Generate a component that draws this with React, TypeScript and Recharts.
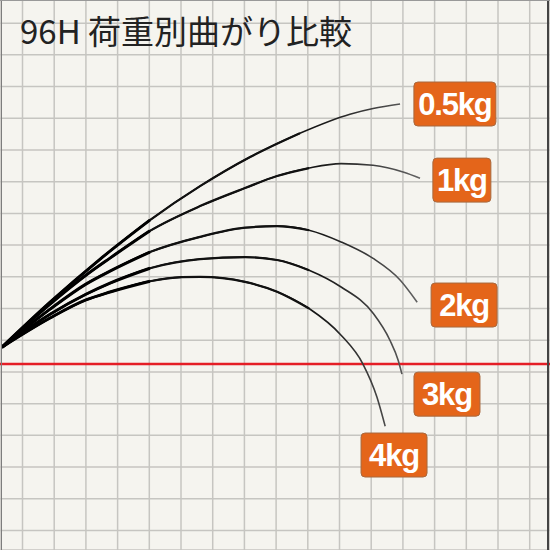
import React from "react";
import {
  ComposedChart,
  Line,
  Scatter,
  XAxis,
  YAxis,
  CartesianGrid,
  ReferenceLine,
} from "recharts";

// units: one grid cell. x counts cells to the right, y counts cells up from the bottom grid line
const gridTicks = [0, 1, 2, 3, 4, 5, 6, 7, 8, 9, 10, 11, 12, 13, 14, 15, 16];

const load05kg = [
  { x: -0.65, y: 5.78 },
  { x: 0.87, y: 7.2 },
  { x: 2.45, y: 8.56 },
  { x: 4.02, y: 9.79 },
  { x: 5.6, y: 10.86 },
  { x: 7.18, y: 11.78 },
  { x: 8.75, y: 12.53 },
  { x: 10.33, y: 13.13 },
  { x: 11.06, y: 13.31 },
  { x: 11.91, y: 13.45 },
];

const load1kg = [
  { x: -0.65, y: 5.78 },
  { x: 0.87, y: 7.14 },
  { x: 2.0, y: 8.05 },
  { x: 2.76, y: 8.59 },
  { x: 4.02, y: 9.45 },
  { x: 5.6, y: 10.23 },
  { x: 7.02, y: 10.8 },
  { x: 8.03, y: 11.18 },
  { x: 9.04, y: 11.43 },
  { x: 10.05, y: 11.57 },
  { x: 11.06, y: 11.52 },
  { x: 12.03, y: 11.3 },
  { x: 12.54, y: 11.11 },
];

const load2kg = [
  { x: -0.65, y: 5.78 },
  { x: 0.87, y: 6.98 },
  { x: 2.0, y: 7.77 },
  { x: 2.76, y: 8.18 },
  { x: 4.02, y: 8.78 },
  { x: 5.6, y: 9.26 },
  { x: 7.02, y: 9.55 },
  { x: 8.03, y: 9.6 },
  { x: 9.04, y: 9.47 },
  { x: 10.05, y: 9.1 },
  { x: 11.06, y: 8.58 },
  { x: 11.91, y: 7.9 },
  { x: 12.45, y: 7.2 },
];

const load3kg = [
  { x: -0.65, y: 5.78 },
  { x: 0.87, y: 6.82 },
  { x: 2.0, y: 7.45 },
  { x: 2.76, y: 7.8 },
  { x: 4.02, y: 8.27 },
  { x: 5.6, y: 8.56 },
  { x: 7.02, y: 8.62 },
  { x: 8.03, y: 8.53 },
  { x: 9.04, y: 8.21 },
  { x: 10.05, y: 7.68 },
  { x: 11.06, y: 6.85 },
  { x: 11.59, y: 6.0 },
  { x: 11.85, y: 5.37 },
  { x: 11.97, y: 4.93 },
];

const load4kg = [
  { x: -0.65, y: 5.78 },
  { x: 0.87, y: 6.7 },
  { x: 2.0, y: 7.27 },
  { x: 2.76, y: 7.52 },
  { x: 4.02, y: 7.86 },
  { x: 5.03, y: 7.99 },
  { x: 5.6, y: 8.0 },
  { x: 7.02, y: 7.84 },
  { x: 8.03, y: 7.53 },
  { x: 9.04, y: 7.0 },
  { x: 10.05, y: 6.16 },
  { x: 10.74, y: 5.25 },
  { x: 11.18, y: 4.21 },
  { x: 11.44, y: 3.29 },
];

const loadLabels = [
  { x: 13.64, y: 13.45, label: "0.5kg" },
  { x: 13.86, y: 11.05, label: "1kg" },
  { x: 13.93, y: 7.11, label: "2kg" },
  { x: 13.39, y: 4.3, label: "3kg" },
  { x: 11.72, y: 2.38, label: "4kg" },
];

const baseLine = 5.25;

const series = [load05kg, load1kg, load2kg, load3kg, load4kg];

const boxWidth: Record<string, number> = { "0.5kg": 82, "1kg": 58 };

function LoadTag(props: any) {
  const { cx, cy, payload } = props;
  const w = boxWidth[payload.label] ?? 66;
  const h = 44;
  return (
    <g>
      <rect
        x={cx - w / 2}
        y={cy - h / 2}
        width={w}
        height={h}
        rx={4}
        fill="#e4651a"
        stroke="#a8693f"
        strokeWidth={1}
      />
      <text
        x={cx}
        y={cy + 11}
        textAnchor="middle"
        fill="#fff"
        fontFamily="'Liberation Sans', Arial, sans-serif"
        fontWeight="bold"
        fontSize={31}
        letterSpacing={-1.2}
      >
        {payload.label}
      </text>
    </g>
  );
}

export default function App() {
  return (
    <div
      style={{
        position: "fixed",
        left: 0,
        top: 0,
        width: 550,
        height: 550,
        background: "#f5f4ef",
        overflow: "hidden",
      }}
    >
      <ComposedChart width={550} height={550} margin={{ top: 0, right: 0, bottom: 0, left: 0 }}>
        <defs>
          <linearGradient id="rodFade" gradientUnits="userSpaceOnUse" x1="0" y1="0" x2="550" y2="0">
            <stop offset="0%" stopColor="#000" />
            <stop offset="58%" stopColor="#161616" />
            <stop offset="78%" stopColor="#6a6a6a" />
          </linearGradient>
        </defs>
        <CartesianGrid stroke="#c6c5c1" strokeWidth={1.5} />
        <XAxis
          type="number"
          dataKey="x"
          domain={[-0.71, 16.64]}
          ticks={gridTicks}
          allowDataOverflow
          hide
        />
        <YAxis
          type="number"
          dataKey="y"
          domain={[-0.615, 16.73]}
          ticks={gridTicks}
          allowDataOverflow
          hide
        />
        <ReferenceLine y={baseLine} stroke="#e51e26" strokeWidth={2.6} />
        {series.map((pts, i) => (
          <Line
            key={`full-${i}`}
            data={pts}
            dataKey="y"
            type="monotone"
            stroke="url(#rodFade)"
            strokeWidth={1.6}
            dot={false}
            isAnimationActive={false}
          />
        ))}
        {series.map((pts, i) => (
          <Line
            key={`mid-${i}`}
            data={pts.filter((p) => p.x <= 9.1)}
            dataKey="y"
            type="monotone"
            stroke="#111"
            strokeWidth={2.2}
            dot={false}
            isAnimationActive={false}
          />
        ))}
        {series.map((pts, i) => (
          <Line
            key={`butt-${i}`}
            data={pts.filter((p) => p.x <= 4.1)}
            dataKey="y"
            type="monotone"
            stroke="#000"
            strokeWidth={3}
            dot={false}
            isAnimationActive={false}
          />
        ))}
        <Scatter data={loadLabels} shape={LoadTag} isAnimationActive={false} />
      </ComposedChart>
      <div
        style={{
          position: "absolute",
          left: 20,
          top: 14,
          fontFamily: "'Noto Sans CJK JP', sans-serif",
          fontSize: 33,
          lineHeight: "33px",
          color: "#222",
          whiteSpace: "nowrap",
        }}
      >
        96H 荷重別曲がり比較
      </div>
      <div style={{ position: "absolute", left: 1, top: 0, width: 1, height: 550, background: "#7d7d7d" }} />
      <div style={{ position: "absolute", left: 547, top: 0, width: 2, height: 550, background: "#444" }} />
      <div style={{ position: "absolute", left: 0, top: 0, width: 550, height: 1, background: "#999" }} />
    </div>
  );
}
